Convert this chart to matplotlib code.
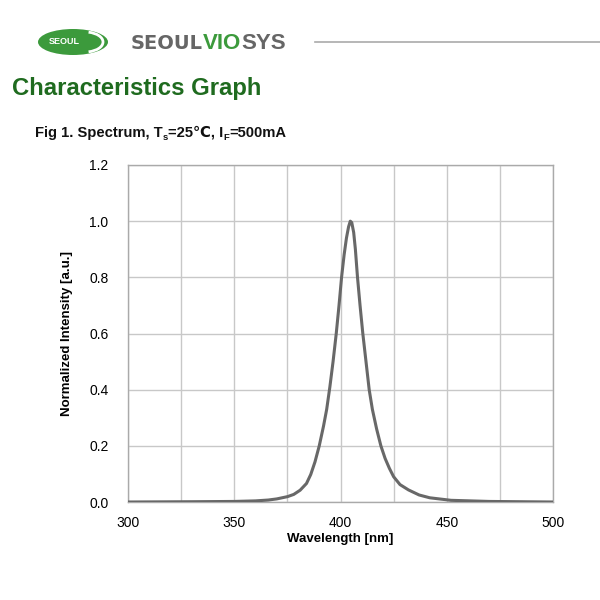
import matplotlib
matplotlib.use('Agg')
import matplotlib.pyplot as plt
from matplotlib.patches import Ellipse, Arc

plt.rcParams['font.family'] = ['Liberation Sans', 'DejaVu Sans']

# spectrum
wavelength = [300, 330, 350, 360, 366, 370, 375, 378, 381, 384, 386, 388, 390, 392, 393.5, 395,
              396.5, 398, 399.3, 400.5, 401.7, 402.8, 403.8, 404.6, 405.3, 406.2, 407, 408,
              409.2, 410.5, 412, 413.5, 415, 417, 419, 421, 423, 425, 428, 432, 437, 442,
              452, 470, 500]
intensity = [0.0, 0.001, 0.002, 0.004, 0.007, 0.011, 0.019, 0.027, 0.042, 0.066, 0.098, 0.143,
             0.2, 0.27, 0.33, 0.41, 0.5, 0.6, 0.7, 0.8, 0.88, 0.94, 0.98, 1.0, 0.995, 0.96,
             0.9, 0.8, 0.7, 0.6, 0.5, 0.4, 0.33, 0.26, 0.2, 0.155, 0.12, 0.09, 0.062, 0.043,
             0.025, 0.015, 0.006, 0.002, 0.0]

x_ticks = [300, 350, 400, 450, 500]
y_ticks = [0.0, 0.2, 0.4, 0.6, 0.8, 1.0, 1.2]

green = '#1f6b1f'
logo_green = '#3c9a3c'
gray_text = '#666666'

fig = plt.figure(figsize=(6, 6), dpi=100)
renderer = fig.canvas.get_renderer()


def run_text(x, y, pieces, **kw):
    # pieces: (text, fontsize, baseline shift px, extra kwargs); x, y in pixels from top-left
    for s, size, dy, extra in pieces:
        t = fig.text(x / 600, 1 - (y + dy) / 600, s, fontsize=size, va='baseline',
                     ha='left', **kw, **extra)
        x = t.get_window_extent(renderer).x1


# header logo
fig.patches.append(Ellipse((73 / 600, 1 - 42 / 600), 70 / 600, 26 / 600,
                           transform=fig.transFigure, facecolor=logo_green, edgecolor='none'))
fig.patches.append(Arc((85 / 600, 1 - 42 / 600), 36 / 600, 20 / 600, theta1=-70, theta2=70,
                       transform=fig.transFigure, color='white', lw=2))
fig.text(64 / 600, 1 - 42 / 600, 'SEOUL', color='white', fontsize=6.5, fontweight='bold',
         ha='center', va='center')
run_text(131, 49, [('SEOUL', 14, 0, dict(color=gray_text, family='Liberation Sans Narrow')),
                   ('VIO', 16, 0, dict(color=logo_green)),
                   ('SYS', 16, 0, dict(color=gray_text))], fontweight='bold')
fig.add_artist(plt.Line2D([315 / 600, 1.0], [1 - 42 / 600, 1 - 42 / 600],
                          transform=fig.transFigure, color='#aaaaaa', lw=1.2))

fig.text(12 / 600, 1 - 89 / 600, 'Characteristics Graph', color=green, fontsize=17.2,
         fontweight='bold', ha='left', va='center')

# figure caption with subscripts
run_text(35, 137, [('Fig 1. Spectrum, T', 10.6, 0, {}),
                   ('s', 6.8, 3, {}),
                   ('=25℃, I', 10.6, 0, {}),
                   ('F', 6.8, 3, {}),
                   ('=500mA', 10.6, 0, {})], color='#111111', fontweight='bold')

ax = fig.add_axes([128 / 600, 1 - 502 / 600, 425 / 600, 337 / 600])
ax.plot(wavelength, intensity, color='#686868', lw=2.2, zorder=3, solid_joinstyle='round')

ax.set_xlim(300, 500)
ax.set_ylim(0, 1.2)
ax.set_xticks(x_ticks)
ax.set_xticks([325, 375, 425, 475], minor=True)
ax.set_yticks(y_ticks)
ax.set_yticklabels(['%.1f' % v for v in y_ticks])
ax.grid(True, which='both', color='#c8c8c8', lw=1)
ax.tick_params(which='both', length=0, labelsize=10)
ax.tick_params(axis='y', pad=14)
ax.tick_params(axis='x', pad=10)
for s in ax.spines.values():
    s.set_color('#aaaaaa')
    s.set_linewidth(1)
ax.set_xlabel('Wavelength [nm]', fontsize=9.5, fontweight='bold', labelpad=2)
ax.set_ylabel('Normalized Intensity [a.u.]', fontsize=9.5, fontweight='bold', labelpad=12)

fig.savefig('out.png', dpi=100)
